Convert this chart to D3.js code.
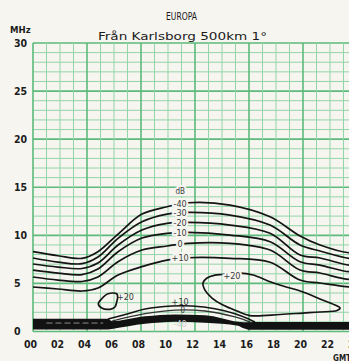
<!DOCTYPE html>
<html><head><meta charset="utf-8">
<script src="https://cdn.jsdelivr.net/npm/d3@7"></script>
<style>
html,body{margin:0;padding:0;background:#f6f5f0;overflow:hidden;}
svg{display:block;}
text{font-family:"DejaVu Sans Condensed","DejaVu Sans",sans-serif;}
</style></head><body>
<svg id="c" width="349" height="361"></svg>
<script>
// ---- data ----
const title = "EUROPA";
const subtitle = "Från Karlsborg 500km 1°";
const yUnit = "MHz";
const xUnit = "GMT";
const yTicks = [0,5,10,15,20,25,30];
const xTicks = [0,2,4,6,8,10,12,14,16,18,20,22,24];
const xTickLabels = ["00","02","04","06","08","10","12","14","16","18","20","22","24"];

// upper contour family (hour -> MHz)
const hours = [0,1.85,3.63,4.81,6.3,8.07,9.93,11.48,14.59,17.56,19.78,21.26,23.41,24];
const levels = ["-40","-30","-20","-10","0","+10"];
const cM40 = [8.30,7.88,7.61,8.30,10.13,12.21,12.97,13.39,13.15,11.93,9.93,8.99,8.19,8.30];
const cM30 = [7.64,7.22,7.05,7.74,9.69,11.41,12.21,12.39,12.11,11.07,8.99,8.37,7.61,7.64];
const cM20 = [7.02,6.70,6.55,7.12,8.99,10.55,11.25,11.35,11.07,10.21,7.95,7.64,6.91,7.02];
const cM10 = [6.39,6.08,5.92,6.50,8.30,9.72,10.21,10.31,10.03,9.33,7.26,6.91,6.22,6.39];
const c0   = [5.67,5.35,5.20,5.67,7.26,8.47,8.89,9.17,9.17,8.47,6.39,6.08,5.43,5.67];
const cP10 = [4.63,4.42,4.21,4.52,5.87,6.74,7.43,7.67,7.61,7.20,5.35,5.04,4.63,4.63];
const labelHour = 10.9;
const labelMHz = [13.25,12.32,11.28,10.24,9.10,7.64];

// +20 dB closed regions [hour, MHz]
const loopBig = [[15.33,6.08],[16.30,5.87],[17.56,5.18],[18.52,4.73],[20.0,4.11],[21.26,3.38],[22.37,2.75],[22.74,2.44],
  [22.52,2.18],[21.26,2.03],[20.0,1.92],[18.30,1.77],[16.07,1.66],[15.11,2.13],[14.07,2.75],[13.26,3.48],
  [12.74,4.31],[12.59,5.04],[12.89,5.56],[13.48,5.87],[14.0,5.93],[14.6,5.98]];
const loopSmall = [[6.2,3.93],[5.56,3.93],[5.09,3.41],[4.84,2.89],[5.09,2.44],[5.70,2.31],[6.07,2.55],[6.2,3.07],[6.27,3.59]];

// low band lines
const lowP10 = [[5.56,1.30],[7.04,1.85],[8.30,2.34],[10.30,2.65],[11.78,2.65],[13.48,2.37],[14.96,1.85],[15.93,1.33],[16.44,0.99]];
const low0   = [[5.85,1.09],[8.30,1.85],[10.52,2.23],[12.74,2.13],[14.96,1.51],[16.22,0.91]];
const bandHours = [0,5.56,5.85,8.30,10.52,12.74,15.19,15.6,16.07,24];
const bandTop   = [1.32,1.32,1.08,1.58,1.78,1.70,1.02,0.96,1.00,1.00];
const bandBot   = [0.20,0.20,0.26,0.80,1.02,0.90,0.60,0.34,0.18,0.18];

// ---- drawing ----
const svg = d3.select("#c");
const bg = "#f6f5f0";
const x = d3.scaleLinear().domain([0,24]).range([33,357]);
const y = d3.scaleLinear().domain([0,30]).range([331.5,43]);

const grid = svg.append("g");
d3.range(0,31).forEach(f=>{
  grid.append("line").attr("x1",x(0)).attr("x2",x(24)).attr("y1",y(f)).attr("y2",y(f))
    .attr("stroke", f%5===0 ? "#5cba7b" : "#93d5a8").attr("stroke-width", f%5===0 ? 1.6 : 1);
});
d3.range(0,25).forEach(h=>{
  grid.append("line").attr("x1",x(h)).attr("x2",x(h)).attr("y1",y(0)).attr("y2",y(30))
    .attr("stroke", h%4===0 ? "#5cba7b" : "#93d5a8").attr("stroke-width", h%4===0 ? 1.6 : 1);
});

// band
const area = d3.area().x((d,i)=>x(bandHours[i])).y0((d,i)=>y(bandBot[i])).y1((d,i)=>y(bandTop[i])).curve(d3.curveMonotoneX);
svg.append("path").attr("d", area(bandHours)).attr("fill","#121212");
svg.append("line").attr("x1",x(1)).attr("x2",x(5.2)).attr("y1",y(0.88)).attr("y2",y(0.88))
  .attr("stroke","#9a9a9a").attr("stroke-width",0.9).attr("stroke-dasharray","6,3");

const line = d3.line().x(d=>x(d[0])).y(d=>y(d[1])).curve(d3.curveCatmullRom);
const closed = d3.line().x(d=>x(d[0])).y(d=>y(d[1])).curve(d3.curveCatmullRomClosed);
const ink = "#141414";

[cM40,cM30,cM20,cM10,c0,cP10].forEach(arr=>{
  svg.append("path").attr("d", line(hours.map((h,i)=>[h,arr[i]])))
    .attr("fill","none").attr("stroke",ink).attr("stroke-width",1.7);
});
svg.append("path").attr("d", closed(loopBig)).attr("fill","none").attr("stroke",ink).attr("stroke-width",1.7);
svg.append("path").attr("d", closed(loopSmall)).attr("fill","none").attr("stroke",ink).attr("stroke-width",1.7);
svg.append("path").attr("d", line(lowP10)).attr("fill","none").attr("stroke",ink).attr("stroke-width",1.6);
svg.append("path").attr("d", line(low0)).attr("fill","none").attr("stroke","#333").attr("stroke-width",1.3);

// labels
function lab(h,f,t,opt={}){
  const s = svg.append("text").attr("x",x(h)).attr("y",y(f)+3.2).attr("text-anchor","middle")
    .attr("font-size",opt.size||9).attr("fill",opt.fill||"#3a3a3a").text(t);
  if(opt.halo!==false){ s.attr("stroke",bg).attr("stroke-width",opt.hw||4).attr("paint-order","stroke"); }
  return s;
}
lab(labelHour, 14.6, "dB", {size:8});
levels.forEach((l,i)=>lab(labelHour, labelMHz[i], l));
lab(14.74, 5.8, "+20");
lab(6.85, 3.6, "+20", {halo:false});
lab(10.9, 3.1, "+10", {halo:false});
lab(11.1, 2.3, "0", {halo:false, size:8});
lab(10.9, 0.75, "-40", {halo:false, fill:"#cfcfcf"});

// axes
const ink2 = "#1c1c1c";
const xa = d3.axisBottom(x).tickValues(xTicks).tickFormat((d,i)=>xTickLabels[i]).tickSize(0);
const gx = svg.append("g").attr("transform","translate(-3,338)").call(xa);
gx.select(".domain").remove();
gx.selectAll("text").attr("font-size",10.5).attr("font-weight","bold").attr("fill",ink2)
  .attr("font-family","DejaVu Sans Condensed, DejaVu Sans");

const ya = d3.axisLeft(y).tickValues(yTicks).tickFormat(d3.format("d")).tickSize(0);
const gy = svg.append("g").call(ya);
gy.select(".domain").remove();
gy.selectAll("text").attr("x",14).attr("text-anchor","start").attr("font-size",10.5).attr("font-weight","bold")
  .attr("fill",ink2).attr("font-family","DejaVu Sans Condensed, DejaVu Sans");

svg.append("text").attr("x",10).attr("y",33).attr("font-size",9.5).attr("font-weight","bold").attr("fill",ink2).text(yUnit);
svg.append("text").attr("x",333).attr("y",361).attr("font-size",8).attr("fill",ink2).attr("font-weight","bold").text(xUnit);
svg.append("text").attr("x",166).attr("y",20).attr("font-size",10.5).attr("fill",ink2)
  .attr("textLength",31).attr("lengthAdjust","spacingAndGlyphs").text(title);
svg.append("text").attr("x",98).attr("y",40).attr("font-size",11).attr("fill",ink2)
  .attr("font-family","DejaVu Sans").attr("textLength",169).attr("lengthAdjust","spacingAndGlyphs").text(subtitle);
</script>
</body></html>
